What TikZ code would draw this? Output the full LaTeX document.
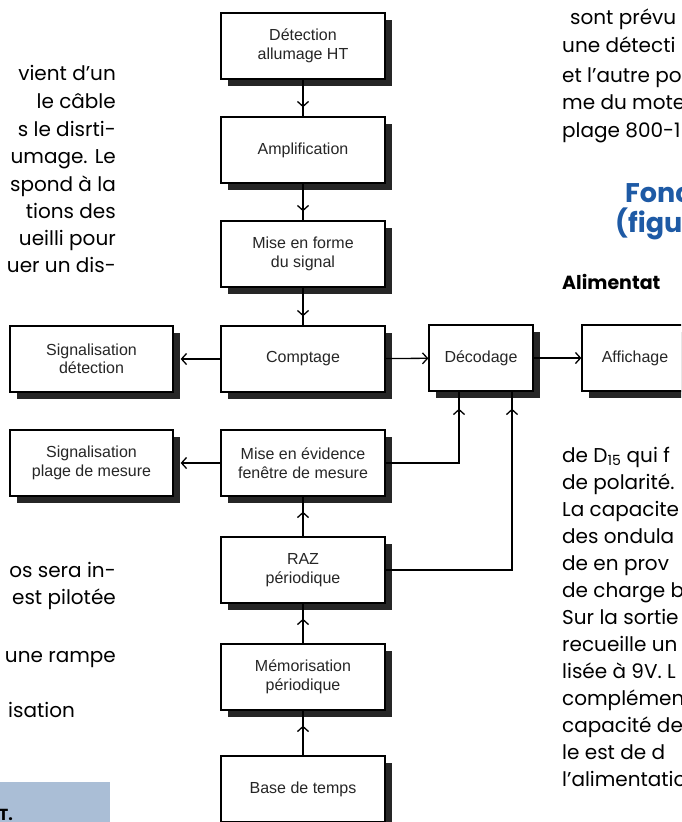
\documentclass[tikz,border=0pt]{standalone}
\usepackage{fontspec}
\setmainfont{Liberation Sans}
\newfontfamily\pagefont{Poppins}
\usetikzlibrary{arrows.meta,shadows,decorations.markings}

\definecolor{titleblue}{RGB}{30,90,165}
\definecolor{boxblue}{RGB}{170,190,214}

\tikzset{
  block/.style={draw, line width=1.3pt, fill=white, minimum width=164pt,
    minimum height=66pt, align=center, text=black!85,
    font=\fontsize{16}{18.5}\selectfont,
    drop shadow={shadow xshift=7pt, shadow yshift=-7pt, fill=black!85, opacity=1}},
  wire/.style={line width=1.3pt},
  into/.style={-{Straight Barb[length=5pt,width=11pt]}},
  rise/.style={postaction={decorate}, decoration={markings,
    mark=at position -#1 with {\arrow{Straight Barb[length=5pt,width=11pt]}}}},
  page/.style={font=\pagefont\fontsize{20}{27}\selectfont, inner sep=0pt}
}

\begin{document}
\begin{tikzpicture}[x=1pt, y=-1pt]
  \useasboundingbox (0,0) rectangle (681,822);
  \clip (0,0) rectangle (681,822);

  % page text round the figure
  \foreach \y/\txt in {78/vient d’un, 106/le câble, 134/s le disrti-,
      161/umage. Le, 189/spond à la, 216/tions des, 243/ueilli pour,
      270/uer un dis-, 575/os sera in-, 602/est pilotée, 660/une rampe}
    \node[page, anchor=mid east] at (116,\y) {\txt};
  \node[page, anchor=mid west] at (8,715) {isation};
  \fill[boxblue] (0,782) rectangle (110,822);
  \node[page, font=\pagefont\bfseries\fontsize{16}{18}\selectfont, anchor=base east]
    at (13,820) {NT.};

  \node[page, anchor=mid west] at (570,22) {sont prévu};
  \foreach \y/\txt in {50/une détecti, 80/et l’autre po, 107/me du mote,
      135/plage 800-1}
    \node[page, anchor=mid west] at (562,\y) {\txt};
  \node[page, anchor=mid west, text=titleblue,
    font=\pagefont\bfseries\fontsize{27}{30}\selectfont] at (625,200) {Fonc};
  \node[page, anchor=mid west, text=titleblue,
    font=\pagefont\bfseries\fontsize{27}{30}\selectfont] at (615,230) {(figu};
  \node[page, anchor=mid west, font=\pagefont\bfseries\fontsize{19}{22}\selectfont]
    at (562,287) {Alimentat};
  \foreach \txt [count=\i from 0] in {de D\textsubscript{15} qui f, de polarité.,
      La capacite, des ondula, de en prov, de charge b, Sur la sortie,
      recueille un, lisée à 9V. L, complémen, capacité de, le est de d,
      l’alimentatio}
    \node[page, anchor=mid west] at (562,460+27*\i) {\txt};

  % blocks
  \node[block] (det)   at (303,46)  {Détection\\allumage HT};
  \node[block] (ampli) at (303,150) {Amplification};
  \node[block] (forme) at (303,254) {Mise en forme\\du signal};
  \node[block] (compt) at (303,359) {Comptage};
  \node[block] (fen)   at (303,463) {Mise en évidence\\fenêtre de mesure};
  \node[block] (raz)   at (303,570) {RAZ\\périodique};
  \node[block] (memo)  at (303,677) {Mémorisation\\périodique};
  \node[block] (base)  at (303,789) {Base de temps};
  \node[block, minimum width=163pt] (sigdet)   at (91.5,359) {Signalisation\\détection};
  \node[block, minimum width=163pt] (sigplage) at (91.5,463) {Signalisation\\plage de mesure};
  \node[block, minimum width=104pt] (deco) at (481,358) {Décodage};
  \node[block, minimum width=106pt] (aff)  at (635,358) {Affichage};

  % connectors
  \draw[wire, rise=9pt] (det) -- (ampli);
  \draw[wire, rise=9pt] (ampli) -- (forme);
  \draw[wire, rise=9pt] (forme) -- (compt);
  \draw[wire, rise=15pt] (base) -- (memo);
  \draw[wire, rise=15pt] (memo) -- (raz);
  \draw[wire, rise=15pt] (raz) -- (fen);
  \draw[wire, into, shorten >=7pt] (compt) -- (sigdet);
  \draw[wire, into, shorten >=7pt] (fen) -- (sigplage);
  \draw[wire, into] (compt) -- (deco);
  \draw[wire, into] (deco) -- (aff);
  \draw[wire, rise=17pt] (fen.east) -| ([xshift=-22pt]deco.south);
  \draw[wire, rise=17pt] (raz.east) -| ([xshift=31pt]deco.south);
\end{tikzpicture}
\end{document}
